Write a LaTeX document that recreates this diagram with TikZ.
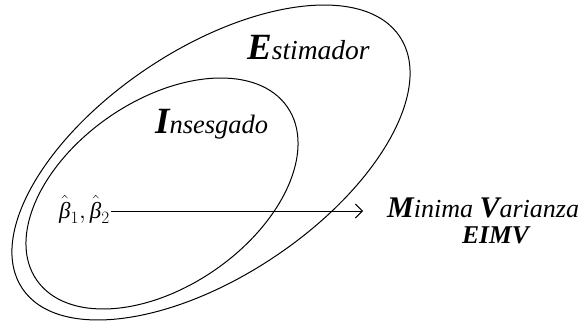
\documentclass[tikz,border=0pt]{standalone}
\usepackage{fontspec}
\setmainfont{Liberation Serif}
\usetikzlibrary{arrows.meta}
\tikzset{
  setline/.style={line width=1pt, black},
  lbl/.style={inner sep=0pt, anchor=base west},
}
\newcommand{\bighead}[2]{{\fontsize{#1}{#1}\selectfont\bfseries\itshape #2}}
\newcommand{\smtxt}[2]{{\fontsize{#1}{#1}\selectfont\itshape #2}}
\begin{document}
\begin{tikzpicture}[x=1pt,y=1pt]
\useasboundingbox (0,0) rectangle (584,322);
% outer ellipse (Estimador)
\draw[setline, rotate around={33.7:(211,159.5)}] (211,159.5) ellipse [x radius=226.9pt, y radius=113.7pt];
% inner ellipse (Insesgado)
\draw[setline, rotate around={34.6:(162,128.5)}] (162,128.5) ellipse [x radius=152.3pt, y radius=93pt];
% labels
\node[lbl] (est) at (247,262) {\bighead{37}{E}\smtxt{27.5}{stimador}};
\node[lbl] (ins) at (155,189) {\bighead{37}{I}\smtxt{26.5}{nsesgado}};
\node[lbl] (minv) at (387,105) {\bighead{30}{M}\smtxt{26}{inima }\bighead{30}{V}\smtxt{26}{arianza}};
\node[inner sep=0pt, anchor=base] (eimv) at (495.5,79) {\bighead{25.6}{EIMV}};
\node[inner sep=0pt, anchor=base west] (beta) at (59,104)
  {\fontsize{23}{23}\selectfont $\hat{\hbox{\itshape β}}_1,\hat{\hbox{\itshape β}}_2$};
\coordinate (tip) at (363,111);
\draw[setline, -{Straight Barb[length=7pt,width=14pt]}] (beta.east |- tip) ++(1,0) -- (tip);
\end{tikzpicture}
\end{document}
